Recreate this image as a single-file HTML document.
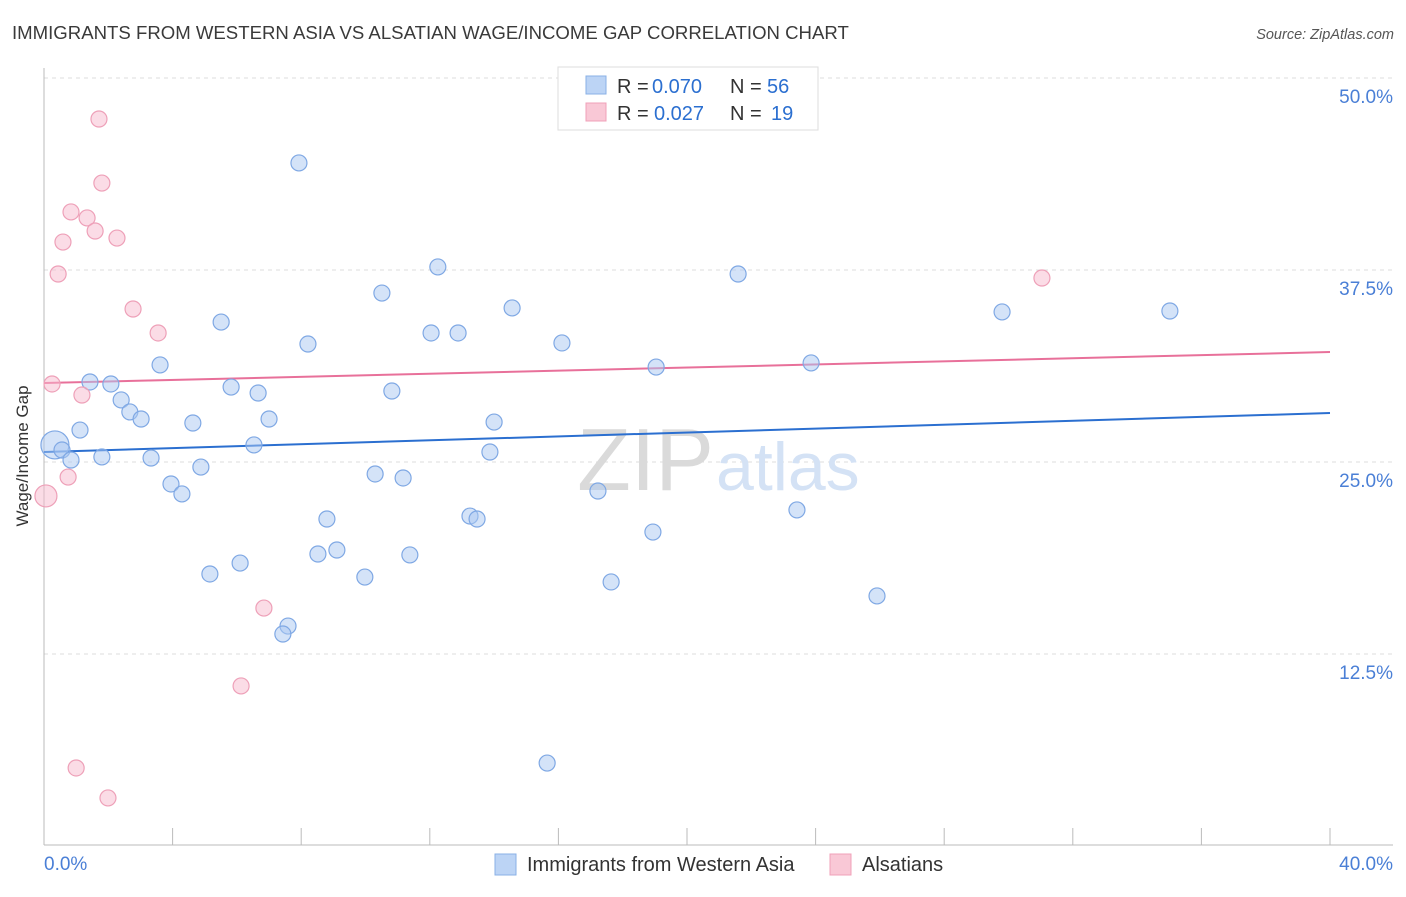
<!DOCTYPE html>
<html><head><meta charset="utf-8"><style>
body{margin:0;background:#fff;font-family:"Liberation Sans",sans-serif}
svg text{font-family:"Liberation Sans",sans-serif}
</style></head><body>
<svg id="chart" width="1406" height="892" xmlns="http://www.w3.org/2000/svg">
<text x="12" y="39" font-size="18.6" fill="#3a3a3a">IMMIGRANTS FROM WESTERN ASIA VS ALSATIAN WAGE/INCOME GAP CORRELATION CHART</text>
<text x="1394" y="39" font-size="14.5" fill="#555" font-style="italic" text-anchor="end">Source: ZipAtlas.com</text>
<g id="grid"></g>
<text x="714" y="490" font-size="88" fill="#dadada" text-anchor="end" font-family="Liberation Serif">ZIP</text>
<text x="716" y="490" font-size="68" fill="#d4e2f5">atlas</text>
<line x1="44" y1="68" x2="44" y2="845" stroke="#bbb"/>
<line x1="44" y1="845" x2="1393" y2="845" stroke="#bbb"/>
<text x="28" y="456" font-size="17" fill="#333" text-anchor="middle" transform="rotate(-90 28 456)">Wage/Income Gap</text>
<text x="44" y="870" font-size="19" fill="#4a7fd6">0.0%</text>
<text x="1393" y="870" font-size="19" fill="#4a7fd6" text-anchor="end">40.0%</text>
<g id="lines"></g>
<g id="points"></g>
<g>
<rect x="558" y="67" width="260" height="63" fill="#fff" stroke="#ddd"/>
<rect x="586" y="76" width="20" height="18" fill="#bcd4f5" stroke="#8ab0e6"/>
<rect x="586" y="103" width="20" height="18" fill="#f9c8d6" stroke="#f0a0b8"/>
<text x="617" y="93" font-size="20" fill="#333">R =</text>
<text x="652" y="93" font-size="20" fill="#2b6fd0">0.070</text>
<text x="730" y="93" font-size="20" fill="#333">N =</text>
<text x="767" y="93" font-size="20" fill="#2b6fd0">56</text>
<text x="617" y="120" font-size="20" fill="#333">R =</text>
<text x="654" y="120" font-size="20" fill="#2b6fd0">0.027</text>
<text x="730" y="120" font-size="20" fill="#333">N =</text>
<text x="771" y="120" font-size="20" fill="#2b6fd0">19</text>
</g>
<g>
<rect x="495" y="854" width="21" height="21" fill="#bcd4f5" stroke="#8ab0e6"/>
<text x="527" y="871" font-size="20" fill="#333">Immigrants from Western Asia</text>
<rect x="830" y="854" width="21" height="21" fill="#f9c8d6" stroke="#f0a0b8"/>
<text x="862" y="871" font-size="20" fill="#333">Alsatians</text>
</g>
</svg>
<script>
const yTicks=[12.5,25,37.5,50];
const yTickLabels=["12.5%","25.0%","37.5%","50.0%"];
const blueX=[7.93,12.25,21.59,10.51,14.56,29.80,35.02,5.51,12.04,12.88,8.21,16.11,3.61,19.04,23.86,1.43,2.08,5.82,6.66,10.82,2.40,2.67,3.02,7.00,4.63,14.00,1.12,0.34,0.56,0.84,1.80,3.33,6.53,13.87,4.88,10.30,11.17,3.95,4.29,17.23,23.42,13.25,13.47,8.80,18.94,9.11,8.52,11.38,6.10,5.16,9.98,17.64,25.91,7.59,7.43,15.65];
const blueY=[44.47,37.70,37.24,36.00,35.03,34.77,34.83,34.11,33.40,33.40,32.68,32.75,31.32,31.18,31.45,30.21,30.08,29.88,29.49,29.62,29.04,28.26,27.80,27.80,27.54,27.60,27.08,26.11,25.78,25.13,25.33,25.26,26.11,25.65,24.67,24.22,23.96,23.57,22.92,23.11,21.88,21.48,21.29,21.29,20.44,19.27,19.01,18.95,18.42,17.71,17.51,17.19,16.28,14.32,13.80,5.40];
const blueBig=[27];
const pinkX=[1.71,1.80,0.84,1.34,1.59,2.27,0.59,0.44,31.04,2.77,3.55,0.25,1.18,0.75,0.06,6.84,6.13,1.00,1.99];
const pinkY=[47.33,43.16,41.28,40.89,40.04,39.58,39.32,37.24,36.98,34.96,33.40,30.08,29.36,24.02,22.79,15.49,10.42,5.08,3.13];
const pinkBig=[14];
const blueTrend=[25.65,28.19];
const pinkTrend=[30.14,32.16];
const xS=v=>44+v/40*1286;
const yS=v=>846-v*15.36;
const NS="http://www.w3.org/2000/svg";
function mk(t,a){const e=document.createElementNS(NS,t);for(const k in a)e.setAttribute(k,a[k]);return e;}
const grid=document.getElementById('grid');
yTicks.forEach((t,i)=>{
 const l=mk('line',{x1:44,x2:1393,y1:yS(t),y2:yS(t),stroke:'#ddd','stroke-dasharray':'4,4'});
 
 
 grid.appendChild(l);
 const tx=mk('text',{x:1393,y:yS(t)+25,'font-size':19,fill:'#4a7fd6','text-anchor':'end'});
 tx.textContent=yTickLabels[i];
 
 
 grid.appendChild(tx);
});
for(let i=1;i<=10;i++){
 const x=xS(i*4);
 const l=mk('line',{x1:x,x2:x,y1:828,y2:845,stroke:'#bbb'});
 
 
 grid.appendChild(l);
}
const pts=document.getElementById('points');
function drawSeries(xs,ys,big,fill,stroke,name,bigR){
 xs.forEach((x,i)=>{
  const r=big.includes(i)?bigR:8;
  const c=mk('circle',{cx:xS(x),cy:yS(ys[i]),r:r,fill:fill,stroke:stroke,'stroke-width':1.2});
  
  
  pts.appendChild(c);
 });
}
drawSeries(blueX,blueY,blueBig,'rgba(170,200,242,0.5)','#7fa8e4','point-western-asia',14);
drawSeries(pinkX,pinkY,pinkBig,'rgba(248,185,205,0.5)','#eea0b8','point-alsatian',11);
const lines=document.getElementById('lines');
const bl=mk('line',{x1:xS(0),y1:yS(blueTrend[0]),x2:xS(40),y2:yS(blueTrend[1]),stroke:'#2b6fd0','stroke-width':2});


lines.appendChild(bl);
const pl=mk('line',{x1:xS(0),y1:yS(pinkTrend[0]),x2:xS(40),y2:yS(pinkTrend[1]),stroke:'#e8709a','stroke-width':2});


lines.appendChild(pl);
</script>
</body></html>
